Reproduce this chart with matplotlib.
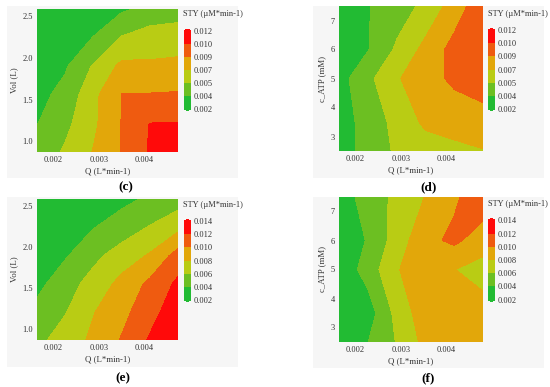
import numpy as np
import matplotlib
matplotlib.use('Agg')
from matplotlib import pyplot as plt
from matplotlib.colors import ListedColormap
from matplotlib.patches import Rectangle

plt.rcParams['font.family'] = ['Liberation Serif', 'DejaVu Serif']

W, H = 550, 387

# grids: flow rate vs volume (c, e) and flow rate vs ATP (d, f)
q_vol = [0.00165, 0.00227, 0.00288, 0.0035, 0.00411, 0.00473]
vol = [0.87, 1.21, 1.56, 1.9, 2.25, 2.59]
q_atp = [0.00165, 0.00228, 0.00291, 0.00354, 0.00417, 0.0048]
c_atp = [2.5, 3.5, 5.0, 6.0, 7.5]

# STY values, rows = y grid, cols = x grid
sty_c = [[0.00417, 0.00558, 0.00708, 0.00872, 0.0105, 0.01183],
         [0.00362, 0.00492, 0.00667, 0.00872, 0.01037, 0.01042],
         [0.00317, 0.00417, 0.00657, 0.0087, 0.00875, 0.00883],
         [0.0025, 0.0035, 0.0055, 0.00742, 0.00725, 0.00733],
         [0.00217, 0.00267, 0.0037, 0.00542, 0.00617, 0.00633],
         [0.002, 0.00217, 0.00267, 0.00342, 0.00408, 0.00442]]

sty_d = [[0.00283, 0.00425, 0.00558, 0.00617, 0.00658, 0.00692],
         [0.00283, 0.00433, 0.00583, 0.00733, 0.00767, 0.008],
         [0.003, 0.00492, 0.00683, 0.008, 0.009, 0.0095],
         [0.00283, 0.00358, 0.00558, 0.0075, 0.00925, 0.00967],
         [0.00283, 0.00358, 0.0045, 0.00575, 0.00775, 0.00983]]

sty_e = [[0.0055, 0.00688, 0.00842, 0.01016, 0.0122, 0.0139],
         [0.0046, 0.0059, 0.0079, 0.0094, 0.0113, 0.0132],
         [0.0034, 0.0052, 0.0067, 0.0086, 0.0104, 0.0124],
         [0.0027, 0.0038, 0.0055, 0.0069, 0.0082, 0.0108],
         [0.0022, 0.0029, 0.0039, 0.0049, 0.0061, 0.0074],
         [0.002, 0.0023, 0.0028, 0.0035, 0.0043, 0.00506]]

sty_f = [[0.0028, 0.00396, 0.0061, 0.0086, 0.009, 0.0092],
         [0.0026, 0.003, 0.0066, 0.0092, 0.009, 0.0088],
         [0.0026, 0.0048, 0.0079, 0.0088, 0.00804, 0.0072],
         [0.003, 0.0041, 0.0069, 0.00944, 0.0104, 0.009],
         [0.003, 0.0048, 0.0065, 0.00806, 0.0097, 0.0112]]

band_colors = ['#22bb33', '#6cbf22', '#b9cc14', '#e2a70a', '#ef5b10', '#ff0a0a']
cmap = ListedColormap(band_colors)
cmap.set_under(band_colors[0])
cmap.set_over(band_colors[-1])


def px(x0, y0, x1, y1):
    return [x0 / W, 1 - y1 / H, (x1 - x0) / W, (y1 - y0) / H]


fig = plt.figure(figsize=(W / 100, H / 100), dpi=100)


def panel(box, ax_box, cb_box, title_xy, tag_xy, x, y, z, top, ylabel, yticks, yfmt, tag):
    r = px(*box)
    fig.patches.append(Rectangle((r[0], r[1]), r[2], r[3], transform=fig.transFigure,
                                 facecolor='#f6f6f6', edgecolor='none', zorder=-1))
    ax = fig.add_axes(px(*ax_box))
    levels = np.linspace(0.002, top, 7)
    cs = ax.contourf(x, y, np.array(z), levels=levels, cmap=cmap, extend='both')
    ax.set_xticks([0.002, 0.003, 0.004])
    ax.set_xticklabels(['0.002', '0.003', '0.004'])
    ax.set_yticks(yticks)
    ax.set_yticklabels([yfmt % v for v in yticks])
    ax.tick_params(length=0, labelsize=6, pad=3, labelcolor='#333333')
    for s in ax.spines.values():
        s.set_visible(False)
    ax.set_xlabel('Q (L*min-1)', fontsize=6.3, labelpad=2, color='#333333')
    ax.set_ylabel(ylabel, fontsize=6.3, labelpad=3, color='#333333')

    cax = fig.add_axes(px(*cb_box))
    cb = fig.colorbar(cs, cax=cax, ticks=levels, format='%.3f', extendfrac=0.03)
    cb.outline.set_visible(False)
    cb.ax.tick_params(length=0, labelsize=6, pad=2, labelcolor='#333333')
    fig.text(title_xy[0] / W, 1 - title_xy[1] / H, 'STY (µM*min-1)', fontsize=6,
             va='center', ha='left', color='#333333')
    fig.text(tag_xy[0] / W, 1 - tag_xy[1] / H, tag, fontsize=9.5, fontweight='bold',
             ha='center', va='center')


panel((7, 6, 238, 178), (37, 9, 178, 152), (184, 29, 191, 111), (183, 14), (126, 187),
      q_vol, vol, sty_c, 0.012, 'Vol (L)', [1.0, 1.5, 2.0, 2.5], '%.1f', '(c)')
panel((313, 6, 544, 178), (339, 6, 483, 151), (488, 28, 495, 111), (488, 14), (429, 187),
      q_atp, c_atp, sty_d, 0.012, 'c_ATP (mM)', [3, 4, 5, 6, 7], '%d', '(d)')
panel((7, 197, 238, 367), (37, 199, 178, 340), (184, 219, 191, 302), (183, 205), (123, 378),
      q_vol, vol, sty_e, 0.014, 'Vol (L)', [1.0, 1.5, 2.0, 2.5], '%.1f', '(e)')
panel((313, 197, 544, 368), (339, 197, 483, 342), (488, 218, 495, 302), (488, 204), (428, 378),
      q_atp, c_atp, sty_f, 0.014, 'c_ATP (mM)', [3, 4, 5, 6, 7], '%d', '(f)')

fig.savefig('out.png', dpi=100)
